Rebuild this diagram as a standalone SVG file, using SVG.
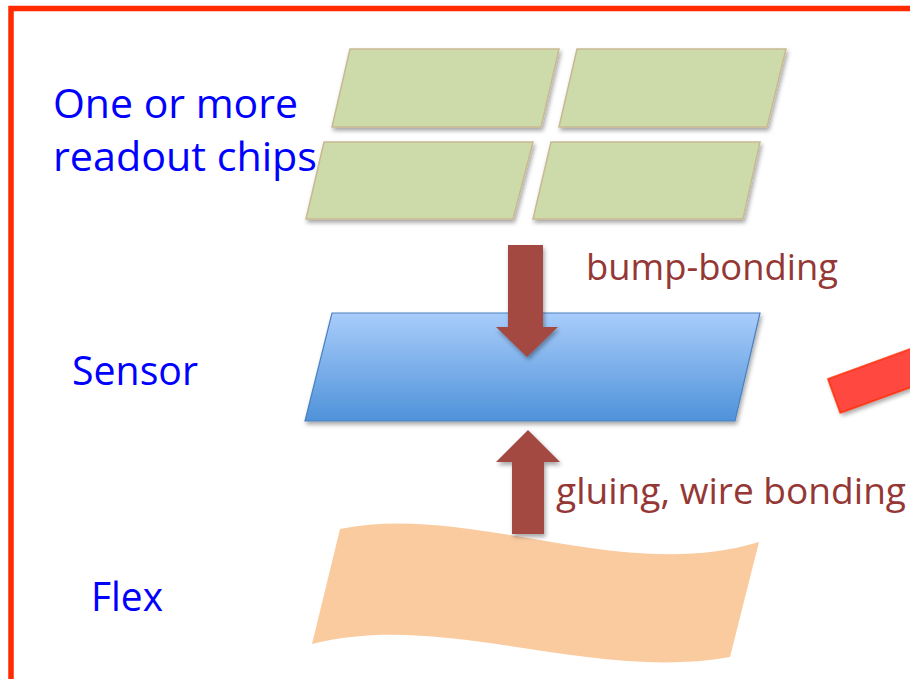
<svg xmlns="http://www.w3.org/2000/svg" width="910" height="679" viewBox="0 0 910 679">
  <defs>
    <filter id="shadow" x="-10%" y="-10%" width="130%" height="140%">
      <feDropShadow dx="1.5" dy="3" stdDeviation="2" flood-color="#000" flood-opacity="0.35"/>
    </filter>
    <linearGradient id="sensorFill" x1="0" y1="0" x2="0" y2="1">
      <stop offset="0" stop-color="#a9cdfb"/>
      <stop offset="1" stop-color="#4f92d9"/>
    </linearGradient>
  </defs>
  <style>
    .label { font-family: "Open Sans", "Liberation Sans", sans-serif; fill: #0000ff; font-size: 40px; }
    .step { font-family: "Open Sans", "Liberation Sans", sans-serif; fill: #953735; font-size: 36px; }
    .chip { fill: #ccdba9; stroke: #c9b993; stroke-width: 1.5; filter: url(#shadow); }
    .sensor { fill: url(#sensorFill); stroke: #4b80c0; stroke-width: 1.2; filter: url(#shadow); }
    .flex { fill: #fbcba0; }
    .arrow { fill: #a34943; filter: url(#shadow); }
    .frame { fill: none; stroke: #ff2a00; stroke-width: 5.5; }
  </style>

  <rect width="910" height="679" fill="#ffffff"/>

  <!-- outer frame (runs past the right and bottom edges) -->
  <rect class="frame" x="11" y="8.5" width="960" height="720"/>

  <!-- readout chips -->
  <g id="chips">
    <polygon class="chip" points="350,49 559,49 541,127 332,127"/>
    <polygon class="chip" points="577,49 786,49 767,127 559,127"/>
    <polygon class="chip" points="324,142 533,142 513,219 306,219"/>
    <polygon class="chip" points="551,142 760,142 743,219 533,219"/>
  </g>

  <!-- sensor -->
  <g id="sensor">
    <polygon class="sensor" points="332,313 760,313 735,421 305,421"/>
  </g>

  <!-- flex -->
  <g id="flex">
    <path class="flex" d="M340,529 C470,502 620,584 759,542 L730,657 C592,682 442,610 312,644 Z"/>
  </g>

  <!-- side arrow, cut by the right edge -->
  <g id="side-arrow">
    <rect transform="translate(828,379) rotate(-20)" x="0" y="0" width="200" height="36" fill="#ff4a40" stroke="#ff2a00" stroke-width="1.5" filter="url(#shadow)"/>
  </g>

  <!-- assembly steps -->
  <g id="connectors">
    <polygon class="arrow" points="508,245 543,245 543,327 558,327 527,357 496,327 508,327"/>
    <polygon class="arrow" points="528,430 560,462 544,462 544,534 512,534 512,462 496,462"/>
  </g>

  <!-- labels -->
  <g id="labels">
    <text class="label" x="53" y="118" textLength="245" lengthAdjust="spacingAndGlyphs">One or more</text>
    <text class="label" x="53" y="171" textLength="264" lengthAdjust="spacingAndGlyphs">readout chips</text>
    <text class="label" x="72" y="385" textLength="126" lengthAdjust="spacingAndGlyphs">Sensor</text>
    <text class="label" x="91" y="611" textLength="72" lengthAdjust="spacingAndGlyphs">Flex</text>
    <text class="step" x="586" y="280" textLength="252" lengthAdjust="spacingAndGlyphs">bump-bonding</text>
    <text class="step" x="556" y="504" textLength="350" lengthAdjust="spacingAndGlyphs">gluing, wire bonding</text>
  </g>
</svg>
